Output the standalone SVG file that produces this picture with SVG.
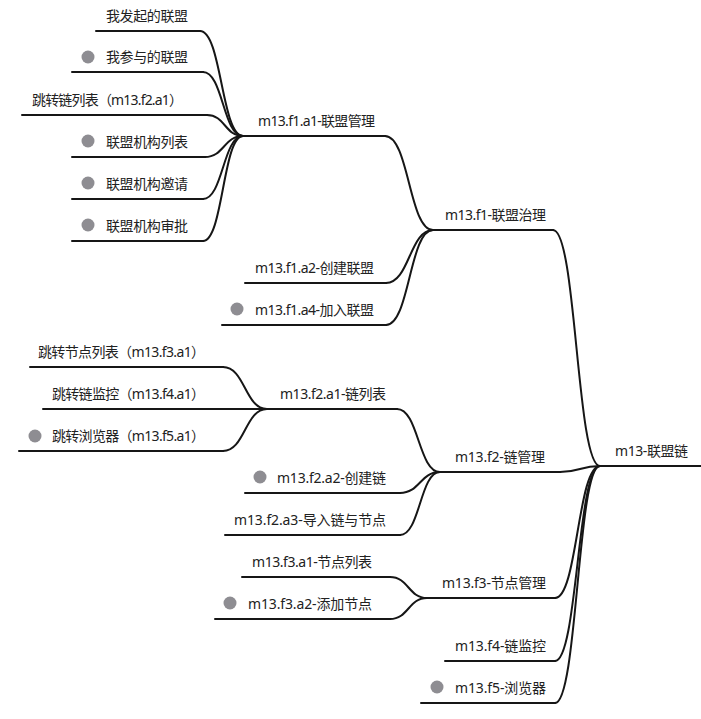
<svg xmlns="http://www.w3.org/2000/svg" width="701" height="719" viewBox="0 0 701 719">
<style>
text{font-family:"Noto Sans","Noto Sans CJK SC",sans-serif;font-size:14px;fill:#222}
.u,.c{fill:none;stroke:#161616;stroke-width:2;stroke-linecap:round}
.b{fill:#8e8d92}
</style>
<rect width="701" height="719" fill="#fff"/>
<g id="connectors">
<path class="c" d="M200 31C221.5 31 221.5 136 243 136"/>
<path class="c" d="M203 72C223 72 223 136 243 136"/>
<path class="c" d="M207 115C225 115 225 136 243 136"/>
<path class="c" d="M205 157C224 157 224 136 243 136"/>
<path class="c" d="M203 199C223 199 223 136 243 136"/>
<path class="c" d="M203 241C223 241 223 136 243 136"/>
<path class="c" d="M385 136C409 136 409 230 433 230"/>
<path class="c" d="M386 283C409.5 283 409.5 230 433 230"/>
<path class="c" d="M386 325C409.5 325 409.5 230 433 230"/>
<path class="c" d="M553 230C576.5 230 576.5 466 600 466"/>
<path class="c" d="M223 367C245 367 245 409 267 409"/>
<path class="c" d="M223 451C245 451 245 409 267 409"/>
<path class="c" d="M397 409C418.5 409 418.5 472 440 472"/>
<path class="c" d="M400 493C420 493 420 472 440 472"/>
<path class="c" d="M400 535C420 535 420 472 440 472"/>
<path class="c" d="M560 472C580 472 580 466 600 466"/>
<path class="c" d="M390 577C408.5 577 408.5 598 427 598"/>
<path class="c" d="M390 619C408.5 619 408.5 598 427 598"/>
<path class="c" d="M555 598C577.5 598 577.5 466 600 466"/>
<path class="c" d="M555 661C577.5 661 577.5 466 600 466"/>
<path class="c" d="M555 703C577.5 703 577.5 466 600 466"/>
</g>
<g id="root"><path class="u" d="M600 466H701"/><text x="615" y="456" textLength="73">m13-联盟链</text></g>
<g id="f1"><path class="u" d="M433 230H553"/><text x="445" y="220" textLength="101">m13.f1-联盟治理</text></g>
<g id="f1a1"><path class="u" d="M243 136H385"/><text x="258" y="126" textLength="117">m13.f1.a1-联盟管理</text></g>
<g id="n1"><path class="u" d="M96 31H200"/><text x="106" y="21" textLength="82">我发起的联盟</text></g>
<g id="n2"><path class="u" d="M72 72H203"/><circle class="b" cx="88" cy="57" r="6.5"/><text x="106" y="62" textLength="82">我参与的联盟</text></g>
<g id="n3"><path class="u" d="M22 115H207"/><text x="32" y="105" textLength="151">跳转链列表（m13.f2.a1）</text></g>
<g id="n4"><path class="u" d="M72 157H205"/><circle class="b" cx="88" cy="141" r="6.5"/><text x="106" y="147" textLength="82">联盟机构列表</text></g>
<g id="n5"><path class="u" d="M72 199H203"/><circle class="b" cx="88" cy="183" r="6.5"/><text x="106" y="189" textLength="82">联盟机构邀请</text></g>
<g id="n6"><path class="u" d="M72 241H203"/><circle class="b" cx="88" cy="225" r="6.5"/><text x="106" y="231" textLength="82">联盟机构审批</text></g>
<g id="f1a2"><path class="u" d="M245 283H386"/><text x="255" y="273" textLength="119">m13.f1.a2-创建联盟</text></g>
<g id="f1a4"><path class="u" d="M222 325H386"/><circle class="b" cx="237" cy="309" r="6.5"/><text x="255" y="315" textLength="119">m13.f1.a4-加入联盟</text></g>
<g id="f2"><path class="u" d="M440 472H560"/><text x="455" y="462" textLength="90">m13.f2-链管理</text></g>
<g id="f2a1"><path class="u" d="M267 409H397"/><text x="280" y="399" textLength="106">m13.f2.a1-链列表</text></g>
<g id="j1"><path class="u" d="M30 367H223"/><text x="38" y="357" textLength="167">跳转节点列表（m13.f3.a1）</text></g>
<g id="j2"><path class="u" d="M43 409H267"/><text x="52" y="399" textLength="153">跳转链监控（m13.f4.a1）</text></g>
<g id="j3"><path class="u" d="M19 451H223"/><circle class="b" cx="35" cy="436" r="6.5"/><text x="52" y="441" textLength="153">跳转浏览器（m13.f5.a1）</text></g>
<g id="f2a2"><path class="u" d="M245 493H400"/><circle class="b" cx="260" cy="477" r="6.5"/><text x="277" y="483" textLength="109">m13.f2.a2-创建链</text></g>
<g id="f2a3"><path class="u" d="M225 535H400"/><text x="234" y="525" textLength="152">m13.f2.a3-导入链与节点</text></g>
<g id="f3"><path class="u" d="M427 598H555"/><text x="442" y="588" textLength="104">m13.f3-节点管理</text></g>
<g id="f3a1"><path class="u" d="M242 577H390"/><text x="252" y="567" textLength="120">m13.f3.a1-节点列表</text></g>
<g id="f3a2"><path class="u" d="M215 619H390"/><circle class="b" cx="230" cy="603" r="6.5"/><text x="248" y="609" textLength="124">m13.f3.a2-添加节点</text></g>
<g id="f4"><path class="u" d="M445 661H555"/><text x="455" y="651" textLength="91">m13.f4-链监控</text></g>
<g id="f5"><path class="u" d="M421 703H555"/><circle class="b" cx="437" cy="687" r="6.5"/><text x="455" y="693" textLength="91">m13.f5-浏览器</text></g>
</svg>
